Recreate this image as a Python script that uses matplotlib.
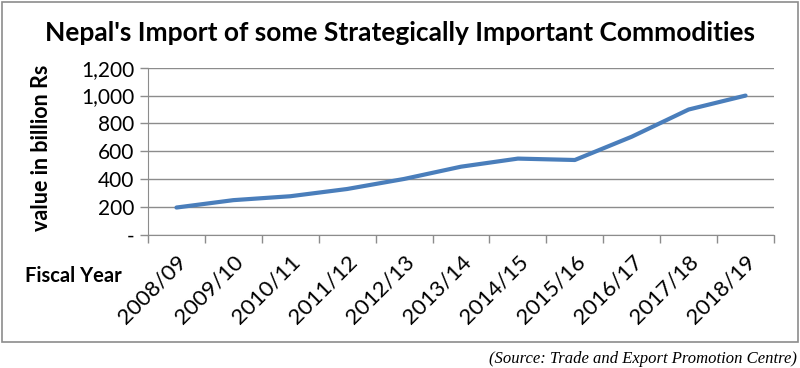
import numpy as np
import matplotlib
matplotlib.use("Agg")
from matplotlib import pyplot as plt
from matplotlib.patches import Rectangle

years = ["2008/09", "2009/10", "2010/11", "2011/12", "2012/13", "2013/14",
         "2014/15", "2015/16", "2016/17", "2017/18", "2018/19"]
imports = [197, 250, 278, 330, 402, 490, 548, 538, 705, 900, 1000]
yticks = [0, 200, 400, 600, 800, 1000, 1200]
ytick_labels = ["-", "200", "400", "600", "800", "1,000", "1,200"]

plt.rcParams['font.family'] = ['Lato', 'DejaVu Sans']

fig = plt.figure(figsize=(8, 3.68), dpi=100)
fig.patches.append(Rectangle((0.002, 1 - 342 / 368), 0.995, 341 / 368 - 0.002,
                             transform=fig.transFigure, fill=False,
                             edgecolor='#8c8c8c', linewidth=1.2))

ax = fig.add_axes([148 / 800, 1 - 235 / 368, (774 - 148) / 800, (235 - 67.7) / 368])
x = np.arange(len(years))
ax.plot(x, imports, color='#4a7ebb', linewidth=3, solid_capstyle='round')

ax.set_xlim(-0.5, len(years) - 0.5)
ax.set_ylim(0, 1200)
ax.set_yticks(yticks)
ax.set_yticklabels(ytick_labels, fontsize=15)
ax.yaxis.grid(True, color='#8c8c8c', linewidth=1)
ax.set_axisbelow(True)

ax.set_xticks(x)
ax.set_xticklabels(years, fontsize=16, rotation=45, ha='right', va='top',
                   rotation_mode='anchor')
ax.tick_params(axis='x', which='major', length=0, pad=12)
ax.set_xticks(np.arange(-0.5, len(years)), minor=True)
ax.tick_params(axis='x', which='minor', length=6, color='#8c8c8c', width=1)
ax.tick_params(axis='y', length=6, color='#8c8c8c', width=1, pad=4)

for s in ['top', 'right']:
    ax.spines[s].set_visible(False)
for s in ['left', 'bottom']:
    ax.spines[s].set_color('#8c8c8c')

fig.text(0.5, 1 - 33 / 368, "Nepal's Import of some Strategically Important Commodities",
         ha='center', va='center', fontsize=19, fontweight='bold')
fig.text(42 / 800, 1 - 148 / 368, "value in billion Rs", rotation=90,
         ha='center', va='center', fontsize=15.5, fontweight='bold')
fig.text(25 / 800, 1 - 276 / 368, "Fiscal Year", ha='left', va='center',
         fontsize=14.5, fontweight='bold')
fig.text(797 / 800, 1 - 359 / 368, "(Source: Trade and Export Promotion Centre)",
         ha='right', va='center', fontsize=12, style='italic',
         family=['Liberation Serif', 'DejaVu Serif'])

fig.savefig("out.png", dpi=100)
